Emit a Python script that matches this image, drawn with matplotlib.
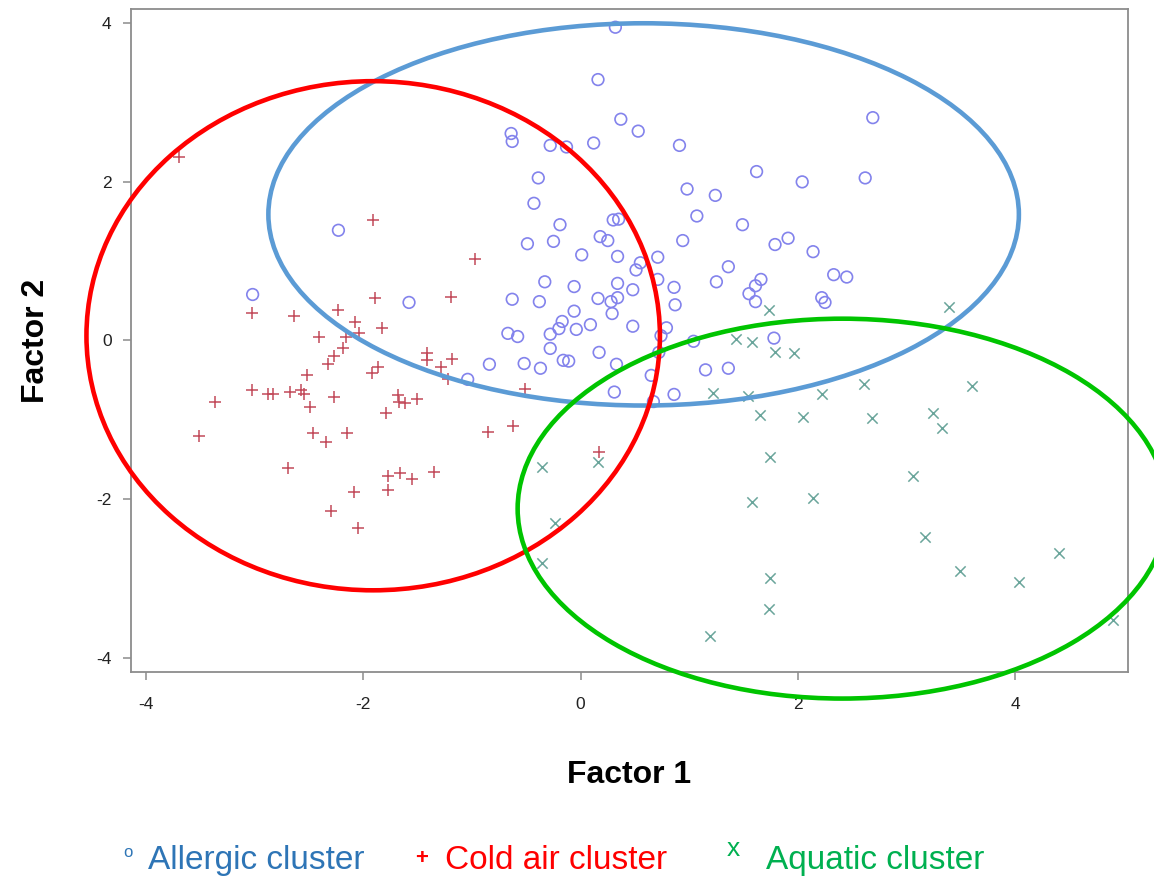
import matplotlib
matplotlib.use("Agg")
import matplotlib.pyplot as plt
from matplotlib.patches import Ellipse

# Factor scores
allergic_x = [0.32, 0.16, 0.37, 0.53, -0.64, -0.63, -0.28, -0.13, 0.12, 0.91, 1.62, -0.39,
              0.98, 1.24, -0.43, 1.07, 1.49, -0.19, 0.30, 0.35, -0.49, -0.25, 0.18, 0.25,
              0.94, 1.79, 0.01, 0.34, 0.71, 0.55, 0.51, 1.36, -0.33, -0.06, 0.34, 0.71,
              0.86, 1.25, 1.66, 1.61, 1.55, 1.61, -0.63, -0.38, 0.16, 0.28, 0.34, 0.48,
              0.87, -0.06, 0.29, -0.17, -0.20, -0.28, -0.04, 0.09, 0.48, 0.79, 0.74, -0.67,
              -0.58, -0.28, -0.16, -0.11, 0.17, -0.84, -0.52, -0.37, 0.33, 0.72, 0.65, -1.04,
              0.31, 0.67, 0.86, 1.04, 1.15, 1.36, 1.78, 2.69, 2.04, 2.62, 1.91, 2.14,
              2.33, 2.45, 2.22, 2.25, -2.23, -3.02, -1.58]
allergic_y = [3.95, 3.29, 2.79, 2.64, 2.61, 2.51, 2.46, 2.44, 2.49, 2.46, 2.13, 2.05,
              1.91, 1.83, 1.73, 1.57, 1.46, 1.46, 1.52, 1.53, 1.22, 1.25, 1.31, 1.26,
              1.26, 1.21, 1.08, 1.06, 1.05, 0.98, 0.89, 0.93, 0.74, 0.68, 0.72, 0.77,
              0.67, 0.74, 0.77, 0.69, 0.59, 0.49, 0.52, 0.49, 0.53, 0.49, 0.54, 0.64,
              0.45, 0.37, 0.34, 0.24, 0.15, 0.08, 0.14, 0.20, 0.18, 0.16, 0.06, 0.09,
              0.05, -0.10, -0.25, -0.26, -0.15, -0.30, -0.29, -0.35, -0.30, -0.15, -0.44, -0.49,
              -0.65, -0.77, -0.68, -0.01, -0.37, -0.35, 0.03, 2.81, 2.00, 2.05, 1.29, 1.12,
              0.83, 0.80, 0.54, 0.48, 1.39, 0.58, 0.48]

cold_x = [-3.70, -1.91, -0.97, -3.03, -2.64, -2.23, -1.89, -1.19, -2.08, -1.83, -2.04, -2.41,
          -2.16, -2.19, -2.27, -2.33, -2.52, -1.41, -1.41, -1.18, -1.29, -1.22, -1.87, -1.92,
          -3.03, -2.88, -2.83, -2.68, -2.57, -2.55, -2.49, -2.27, -3.37, -1.68, -1.67, -1.62,
          -1.51, -1.79, -3.51, -2.46, -2.34, -2.15, -2.69, -1.77, -1.66, -1.55, -1.35, -1.77,
          -2.09, -2.30, -2.05, -0.51, -0.85, -0.62, 0.17]
cold_y = [2.31, 1.52, 1.03, 0.35, 0.31, 0.38, 0.54, 0.55, 0.23, 0.16, 0.10, 0.04,
          0.04, -0.09, -0.20, -0.30, -0.44, -0.16, -0.24, -0.23, -0.34, -0.49, -0.34, -0.41,
          -0.62, -0.68, -0.68, -0.65, -0.62, -0.68, -0.84, -0.71, -0.77, -0.69, -0.78, -0.79,
          -0.74, -0.92, -1.21, -1.17, -1.28, -1.17, -1.61, -1.71, -1.67, -1.75, -1.66, -1.88,
          -1.91, -2.15, -2.37, -0.61, -1.16, -1.08, -1.41]

aquatic_x = [1.73, 1.43, 1.58, 1.79, 1.22, 1.54, 1.65, 3.39, 1.96, 2.61, 2.22, 3.60,
             3.24, 2.05, 2.68, 3.33, 3.06, 2.14, 3.17, 4.40, 3.49, 4.04, 4.90, 1.74,
             1.58, 1.74, 1.73, 1.19, -0.36, 0.16, -0.24, -0.36]
aquatic_y = [0.39, 0.02, -0.02, -0.15, -0.66, -0.70, -0.94, 0.42, -0.16, -0.55, -0.68, -0.58,
             -0.91, -0.97, -0.98, -1.10, -1.71, -1.98, -2.48, -2.68, -2.91, -3.05, -3.53, -1.47,
             -2.04, -3.00, -3.38, -3.73, -1.60, -1.53, -2.30, -2.81]

# cluster ellipses: allergic, cold air, aquatic
ell_cx = [0.58, -1.91, 2.41]
ell_cy = [1.59, 0.06, -2.12]
ell_w = [6.91, 5.28, 5.98]
ell_h = [4.82, 6.42, 4.79]
ell_colors = ["#5B9BD5", "#FF0000", "#00C400"]

labels = ["Allergic cluster", "Cold air cluster", "Aquatic cluster"]
label_colors = ["#2E75B6", "#FF0000", "#00B050"]

plt.rcParams["font.family"] = ["Liberation Sans", "DejaVu Sans"]
plt.rcParams["axes.unicode_minus"] = False

fig = plt.figure(figsize=(11.54, 8.82), dpi=100)
ax = fig.add_axes([0.1135, 0.2381, 0.864, 0.7517])

ax.scatter(allergic_x, allergic_y, s=70, marker="o", facecolors="none",
           edgecolors="#8383EC", linewidths=1.2, zorder=2)
ax.scatter(cold_x, cold_y, s=70, marker="+", color="#C24A5A", linewidths=1.1, zorder=2)
ax.scatter(aquatic_x, aquatic_y, s=55, marker="x", color="#6AA59B", linewidths=1.1, zorder=2)

for cx, cy, w, h, c in zip(ell_cx, ell_cy, ell_w, ell_h, ell_colors):
    ax.add_patch(Ellipse((cx, cy), w, h, fill=False, edgecolor=c, lw=3.3,
                         clip_on=False, zorder=3))

ax.set_xlim(-4.14, 5.04)
ax.set_ylim(-4.18, 4.18)
ax.set_xticks([-4, -2, 0, 2, 4])
ax.set_yticks([-4, -2, 0, 2, 4])
for sp in ax.spines.values():
    sp.set_color("#8C8C8C")
    sp.set_linewidth(1.3)
ax.tick_params(direction="out", length=6, width=1.1, color="#8C8C8C",
               labelsize=12.5, labelcolor="#222222")
ax.tick_params(axis="x", pad=12)
ax.tick_params(axis="y", pad=8)

ax.set_xlabel("Factor 1", fontsize=23, fontweight="bold")
ax.set_ylabel("Factor 2", fontsize=23, fontweight="bold")
ax.xaxis.set_label_coords(0.5, -0.132)
ax.yaxis.set_label_coords(-0.08, 0.5)

# legend drawn as plain text like the original slide
fig.text(0.107, 0.028, "o", color=label_colors[0], fontsize=12)
fig.text(0.128, 0.015, labels[0], color=label_colors[0], fontsize=24)
fig.text(0.360, 0.020, "+", color=label_colors[1], fontsize=16, fontweight="bold")
fig.text(0.386, 0.015, labels[1], color=label_colors[1], fontsize=24)
fig.text(0.630, 0.030, "x", color=label_colors[2], fontsize=19)
fig.text(0.664, 0.015, labels[2], color=label_colors[2], fontsize=24)

fig.savefig("out.png", dpi=100)
